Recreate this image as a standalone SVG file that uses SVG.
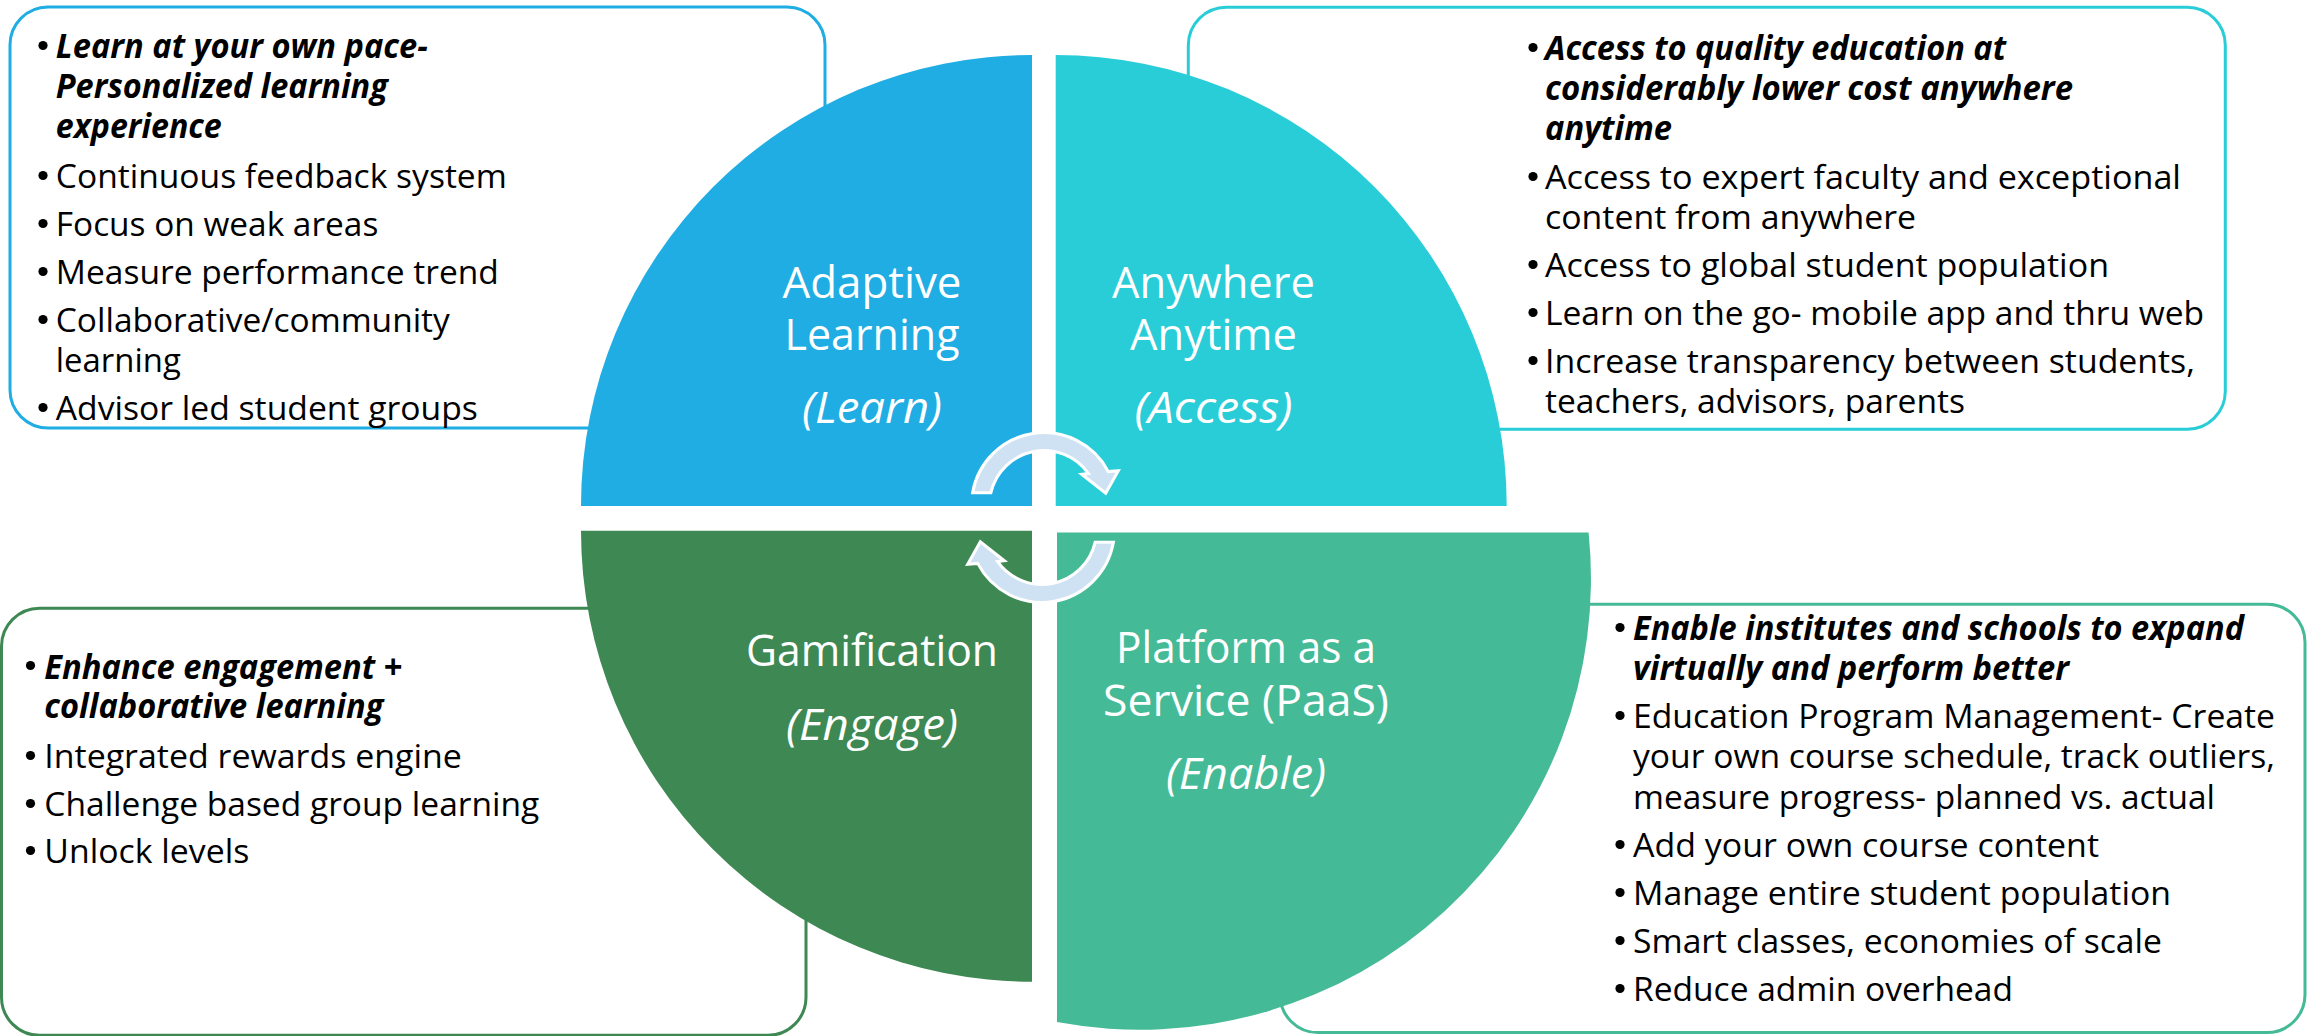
<svg xmlns="http://www.w3.org/2000/svg" width="2309" height="1036" viewBox="0 0 2309 1036">
<defs>
<style>
.box{fill:#fff;stroke-width:3}
.t{font-family:"Open Sans","Noto Sans","Liberation Sans",sans-serif;font-size:33.5px;fill:#000}
.hd{font-weight:bold;font-style:italic}
.bul{fill:#000}
.lbl{font-family:"Open Sans","Noto Sans","Liberation Sans",sans-serif;font-size:44px;fill:#fff;text-anchor:middle}
.it{font-style:italic}
.arr{fill:#CFE2F3;stroke:#fff;stroke-width:3;stroke-linejoin:miter}
</style>
<path id="arrowShape" d="M 972.6,492.7 A 72.5 72.5 0 0 1 1108.3,471.6 L 1118.3,470.7 L 1105.7,493.3 L 1081.7,474.3 L 1088.5,473.6 A 54.5 54.5 0 0 0 990.9,492.7 Z"/>
</defs>
<rect width="2309" height="1036" fill="#fff"/>

<g id="node-learn">
<rect class="box" x="10" y="7" width="815" height="421" rx="38" stroke="#1FADE3"/>
<g class="bul">
<circle cx="43" cy="45.5" r="4.6"/>
<circle cx="43" cy="175.5" r="4.6"/>
<circle cx="43" cy="223.5" r="4.6"/>
<circle cx="43" cy="271.5" r="4.6"/>
<circle cx="43" cy="319.5" r="4.6"/>
<circle cx="43" cy="407.5" r="4.6"/>
</g>
<g class="t">
<text class="hd" x="55.8" y="58" textLength="372" lengthAdjust="spacingAndGlyphs">Learn at your own pace-</text>
<text class="hd" x="55.8" y="98" textLength="332" lengthAdjust="spacingAndGlyphs">Personalized learning</text>
<text class="hd" x="55.8" y="138" textLength="166" lengthAdjust="spacingAndGlyphs">experience</text>
<text x="55.8" y="188" textLength="451" lengthAdjust="spacingAndGlyphs">Continuous feedback system</text>
<text x="55.8" y="236" textLength="322.5" lengthAdjust="spacingAndGlyphs">Focus on weak areas</text>
<text x="55.8" y="284" textLength="443" lengthAdjust="spacingAndGlyphs">Measure performance trend</text>
<text x="55.8" y="332" textLength="394" lengthAdjust="spacingAndGlyphs">Collaborative/community</text>
<text x="55.8" y="372" textLength="125" lengthAdjust="spacingAndGlyphs">learning</text>
<text x="55.8" y="420" textLength="422" lengthAdjust="spacingAndGlyphs">Advisor led student groups</text>
</g>
<path d="M 1032,506 L 581,506 A 451 451 0 0 1 1032,55 Z" fill="#1FADE3"/>
<text class="lbl" x="872" y="298" textLength="179" lengthAdjust="spacingAndGlyphs">Adaptive</text>
<text class="lbl" x="872" y="350" textLength="175" lengthAdjust="spacingAndGlyphs">Learning</text>
<text class="lbl it" x="872" y="423" textLength="140" lengthAdjust="spacingAndGlyphs">(Learn)</text>
</g>

<g id="node-access">
<rect class="box" x="1188.3" y="7.3" width="1037" height="422" rx="38" stroke="#29CDD8"/>
<g class="bul">
<circle cx="1533" cy="47.5" r="4.6"/>
<circle cx="1533" cy="176.5" r="4.6"/>
<circle cx="1533" cy="264.5" r="4.6"/>
<circle cx="1533" cy="312.5" r="4.6"/>
<circle cx="1533" cy="360.5" r="4.6"/>
</g>
<g class="t">
<text class="hd" x="1545" y="60" textLength="461" lengthAdjust="spacingAndGlyphs">Access to quality education at</text>
<text class="hd" x="1545" y="100" textLength="528" lengthAdjust="spacingAndGlyphs">considerably lower cost anywhere</text>
<text class="hd" x="1545" y="140" textLength="127" lengthAdjust="spacingAndGlyphs">anytime</text>
<text x="1545" y="189" textLength="636" lengthAdjust="spacingAndGlyphs">Access to expert faculty and exceptional</text>
<text x="1545" y="229" textLength="371" lengthAdjust="spacingAndGlyphs">content from anywhere</text>
<text x="1545" y="277" textLength="564" lengthAdjust="spacingAndGlyphs">Access to global student population</text>
<text x="1545" y="325" textLength="659" lengthAdjust="spacingAndGlyphs">Learn on the go- mobile app and thru web</text>
<text x="1545" y="373" textLength="650" lengthAdjust="spacingAndGlyphs">Increase transparency between students,</text>
<text x="1545" y="413" textLength="420" lengthAdjust="spacingAndGlyphs">teachers, advisors, parents</text>
</g>
<path d="M 1055.7,506 L 1055.7,55 A 451 451 0 0 1 1506.7,506 Z" fill="#29CDD8"/>
<text class="lbl" x="1213.5" y="298" textLength="203" lengthAdjust="spacingAndGlyphs">Anywhere</text>
<text class="lbl" x="1213.5" y="350" textLength="167" lengthAdjust="spacingAndGlyphs">Anytime</text>
<text class="lbl it" x="1213.5" y="423" textLength="158" lengthAdjust="spacingAndGlyphs">(Access)</text>
</g>

<g id="node-engage">
<rect class="box" x="1.5" y="608.3" width="804.5" height="427" rx="38" stroke="#3E8853"/>
<g class="bul">
<circle cx="30.5" cy="665.5" r="4.6"/>
<circle cx="30.5" cy="755.5" r="4.6"/>
<circle cx="30.5" cy="803.5" r="4.6"/>
<circle cx="30.5" cy="850.5" r="4.6"/>
</g>
<g class="t">
<text class="hd" x="44.3" y="679" textLength="358" lengthAdjust="spacingAndGlyphs">Enhance engagement +</text>
<text class="hd" x="44.3" y="718" textLength="339" lengthAdjust="spacingAndGlyphs">collaborative learning</text>
<text x="44.3" y="768" textLength="417.5" lengthAdjust="spacingAndGlyphs">Integrated rewards engine</text>
<text x="44.3" y="816" textLength="495" lengthAdjust="spacingAndGlyphs">Challenge based group learning</text>
<text x="44.3" y="863" textLength="205" lengthAdjust="spacingAndGlyphs">Unlock levels</text>
</g>
<path d="M 1032,530.7 L 1032,981.7 A 451 451 0 0 1 581,530.7 Z" fill="#3E8853"/>
<text class="lbl" x="872" y="666" textLength="252" lengthAdjust="spacingAndGlyphs">Gamification</text>
<text class="lbl it" x="872" y="740" textLength="172" lengthAdjust="spacingAndGlyphs">(Engage)</text>
</g>

<g id="node-enable">
<rect class="box" x="1280" y="604.3" width="1025" height="428.3" rx="38" stroke="#45BA97"/>
<g class="bul">
<circle cx="1620" cy="627.5" r="4.6"/>
<circle cx="1620" cy="715.5" r="4.6"/>
<circle cx="1620" cy="844.5" r="4.6"/>
<circle cx="1620" cy="892.5" r="4.6"/>
<circle cx="1620" cy="940.5" r="4.6"/>
<circle cx="1620" cy="988.5" r="4.6"/>
</g>
<g class="t">
<text class="hd" x="1633" y="640" textLength="611" lengthAdjust="spacingAndGlyphs">Enable institutes and schools to expand</text>
<text class="hd" x="1633" y="680" textLength="436" lengthAdjust="spacingAndGlyphs">virtually and perform better</text>
<text x="1633" y="728" textLength="642" lengthAdjust="spacingAndGlyphs">Education Program Management- Create</text>
<text x="1633" y="768" textLength="642" lengthAdjust="spacingAndGlyphs">your own course schedule, track outliers,</text>
<text x="1633" y="809" textLength="582" lengthAdjust="spacingAndGlyphs">measure progress- planned vs. actual</text>
<text x="1633" y="857" textLength="466" lengthAdjust="spacingAndGlyphs">Add your own course content</text>
<text x="1633" y="905" textLength="538" lengthAdjust="spacingAndGlyphs">Manage entire student population</text>
<text x="1633" y="953" textLength="529" lengthAdjust="spacingAndGlyphs">Smart classes, economies of scale</text>
<text x="1633" y="1001" textLength="380" lengthAdjust="spacingAndGlyphs">Reduce admin overhead</text>
</g>
<path d="M 1057,532.5 L 1588.6,532.5 A 451 451 0 0 1 1057,1022 Z" fill="#45BA97"/>
<text class="lbl" x="1246" y="663" textLength="260" lengthAdjust="spacingAndGlyphs">Platform as a</text>
<text class="lbl" x="1246" y="716" textLength="286" lengthAdjust="spacingAndGlyphs">Service (PaaS)</text>
<text class="lbl it" x="1246" y="789" textLength="160" lengthAdjust="spacingAndGlyphs">(Enable)</text>
</g>

<g id="connectors">
<use href="#arrowShape" class="arr"/>
<use href="#arrowShape" class="arr" transform="rotate(180 1043 517.5)"/>
</g>
</svg>
